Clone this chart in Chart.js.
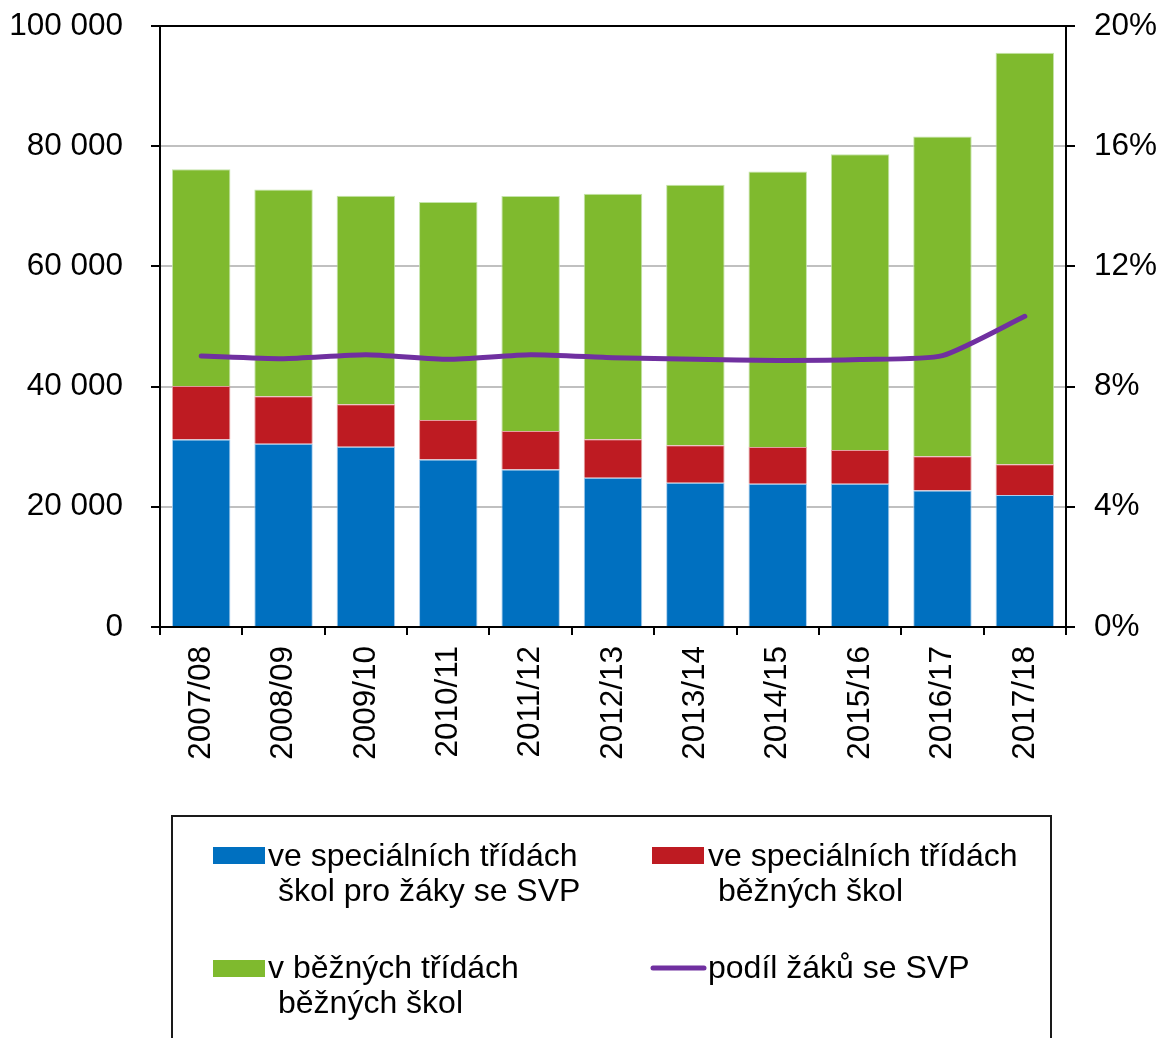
<!DOCTYPE html>
<html>
<head>
<meta charset="utf-8">
<script src="https://cdn.jsdelivr.net/npm/chart.js@4/dist/chart.umd.min.js"></script>
<style>
html,body{margin:0;padding:0;background:#fff;}
#wrap{width:1160px;height:1038px;position:relative;}
canvas{display:block;}
</style>
</head>
<body>
<div id="wrap"><canvas id="c" width="1160" height="1038"></canvas></div>
<script>
// ---- data ----
const categories = ["2007/08","2008/09","2009/10","2010/11","2011/12","2012/13","2013/14","2014/15","2015/16","2016/17","2017/18"];
const specialSchools = [31200, 30500, 30000, 27850, 26200, 24850, 24000, 23850, 23850, 22700, 21950];
const specialClasses = [8900, 7900, 7050, 6600, 6400, 6400, 6250, 6100, 5600, 5700, 5150];
const regularClasses = [36050, 34400, 34700, 36250, 39100, 40850, 43350, 45850, 49200, 53200, 68450];
const sharePct = [9.02, 8.93, 9.06, 8.91, 9.06, 8.96, 8.91, 8.87, 8.90, 9.03, 10.34];
const leftTicks = [0, 20000, 40000, 60000, 80000, 100000];
const rightTicks = [0, 4, 8, 12, 16, 20];
const legendLines = [
  ["ve speciálních třídách", "škol pro žáky se SVP"],
  ["ve speciálních třídách", "běžných škol"],
  ["v běžných třídách", "běžných škol"],
  ["podíl žáků se SVP"]
];

const FONT = "'Liberation Sans', Arial, sans-serif";
const fmtThousands = v => String(v).replace(/\B(?=(\d{3})+(?!\d))/g, ' ');

const legendPlugin = {
  id: 'customLegend',
  afterDraw(chart) {
    const ctx = chart.ctx;
    ctx.save();
    ctx.strokeStyle = '#1a1a1a';
    ctx.lineWidth = 2;
    ctx.strokeRect(172, 816, 879, 260);
    ctx.font = '32px ' + FONT;
    ctx.fillStyle = '#000';
    ctx.textBaseline = 'alphabetic';
    ctx.textAlign = 'left';
    const pos = [
      {sx: 213, sy: 847, tx: 268, by: 866},
      {sx: 652, sy: 847, tx: 708, by: 866},
      {sx: 213, sy: 960, tx: 268, by: 978},
      {sx: 652, sy: 960, tx: 708, by: 978}
    ];
    chart.data.datasets.forEach((ds, i) => {
      const p = pos[i];
      if (ds.type === 'line') {
        ctx.strokeStyle = ds.borderColor;
        ctx.lineWidth = 5;
        ctx.lineCap = 'round';
        ctx.beginPath();
        ctx.moveTo(p.sx + 1, p.sy + 8);
        ctx.lineTo(p.sx + 52, p.sy + 8);
        ctx.stroke();
      } else {
        ctx.fillStyle = ds.backgroundColor;
        ctx.fillRect(p.sx, p.sy, 52, 17);
      }
      ctx.fillStyle = '#000';
      legendLines[i].forEach((t, j) => {
        ctx.fillText(t, p.tx + (j > 0 ? 10 : 0), p.by + j * 35);
      });
    });
    ctx.restore();
  }
};

function fixVertical(w) {
  return function(scale) {
    scale.width = w;
    scale.paddingTop = 0;
    scale.paddingBottom = 0;
  };
}

new Chart(document.getElementById('c'), {
  type: 'bar',
  data: {
    labels: categories,
    datasets: [
      {label: legendLines[0].join(' '), data: specialSchools, backgroundColor: '#0070C0', borderColor: 'rgba(160,200,235,0.9)', borderWidth: 1, stack: 's', order: 1, yAxisID: 'y'},
      {label: legendLines[1].join(' '), data: specialClasses, backgroundColor: '#BE1B22', borderColor: 'rgba(225,150,150,0.9)', borderWidth: 1, stack: 's', order: 1, yAxisID: 'y'},
      {label: legendLines[2].join(' '), data: regularClasses, backgroundColor: '#7FBA2E', borderColor: 'rgba(190,225,160,0.9)', borderWidth: 1, stack: 's', order: 1, yAxisID: 'y'},
      {type: 'line', label: legendLines[3][0], data: sharePct, borderColor: '#7030A0', backgroundColor: '#7030A0', borderWidth: 5, pointRadius: 0, tension: 0.2, borderCapStyle: 'round', borderJoinStyle: 'round', order: 0, yAxisID: 'y2'}
    ]
  },
  options: {
    responsive: false,
    animation: false,
    events: [],
    layout: {padding: {top: 26, left: 0, right: 0, bottom: 0}},
    plugins: {legend: {display: false}, tooltip: {enabled: false}},
    datasets: {bar: {categoryPercentage: 1, barPercentage: 0.71}},
    scales: {
      x: {
        stacked: true,
        offset: true,
        grid: {display: true, drawOnChartArea: false, drawTicks: true, tickLength: 8, tickColor: '#000', lineWidth: 2, offset: true},
        border: {display: true, color: '#000', width: 2},
        ticks: {color: '#000', font: {family: FONT, size: 31.5}, minRotation: 90, maxRotation: 90, padding: 11, autoSkip: false},
        afterFit(scale) { scale.height = 411; scale.paddingLeft = 0; scale.paddingRight = 0; }
      },
      y: {
        stacked: true,
        position: 'left',
        min: 0, max: 100000,
        afterBuildTicks(scale) { scale.ticks = leftTicks.map(v => ({value: v})); },
        grid: {
          color: ctx => (ctx.tick && ctx.tick.value === 100000) ? '#000' : '#c0c0c0',
          lineWidth: 2, drawTicks: true, tickLength: 9, tickColor: '#000'
        },
        border: {display: true, color: '#000', width: 2},
        ticks: {color: '#000', font: {family: FONT, size: 31.5}, padding: 28, callback: v => fmtThousands(v)},
        afterFit: fixVertical(160)
      },
      y2: {
        position: 'right',
        min: 0, max: 20,
        afterBuildTicks(scale) { scale.ticks = rightTicks.map(v => ({value: v})); },
        grid: {drawOnChartArea: false, drawTicks: true, tickLength: 9, tickColor: '#000', lineWidth: 2},
        border: {display: true, color: '#000', width: 2},
        ticks: {color: '#000', font: {family: FONT, size: 31.5}, padding: 19, callback: v => v + '%'},
        afterFit: fixVertical(94)
      }
    }
  },
  plugins: [legendPlugin]
});
</script>
</body>
</html>
